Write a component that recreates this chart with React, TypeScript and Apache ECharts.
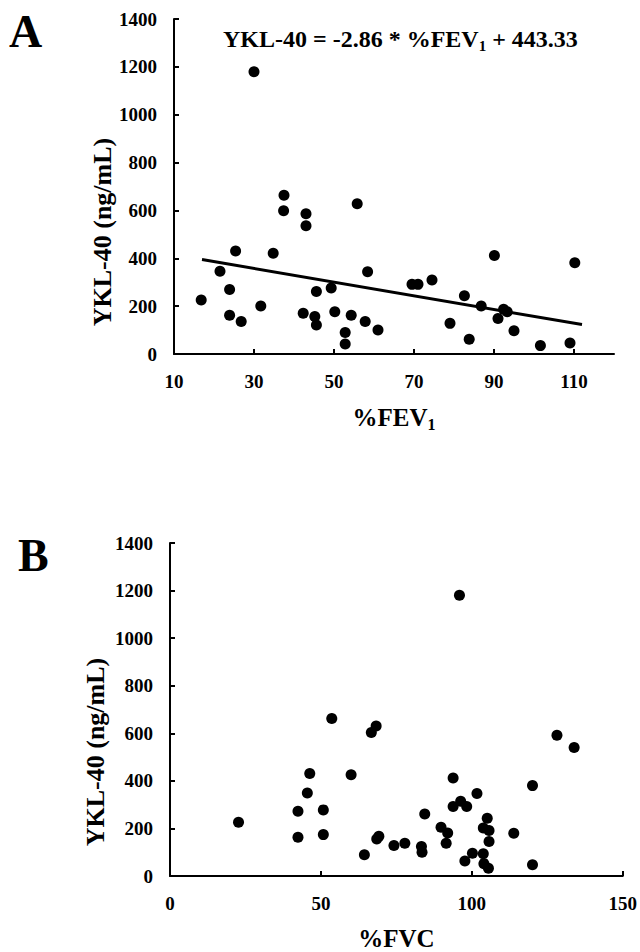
import React, { useEffect, useRef } from "react";
import * as echarts from "echarts";

// Panel A: %FEV1 vs YKL-40
const fevA = [16.8, 21.5, 23.9, 23.9, 25.4, 26.8, 30, 31.7, 34.8, 37.4, 37.5, 42.3, 43, 43, 45.2, 45.6, 45.6, 49.3, 50.2, 52.8, 52.8, 54.3, 55.8, 58.4, 57.8, 61, 69.5, 71, 74.5, 79, 82.6, 83.8, 86.8, 90.1, 91, 92.4, 93.3, 95, 101.6, 109, 110.2];
const yklA = [226, 346, 270, 162, 430, 136, 1180, 201, 421, 599, 663, 170, 586, 536, 157, 261, 121, 276, 177, 90, 42, 162, 628, 344, 136, 100, 291, 291, 309, 128, 243, 62, 201, 412, 148, 187, 177, 97, 35, 46, 381];

// Regression: YKL-40 = -2.86 * %FEV1 + 443.33
const slope = -2.86;
const intercept = 443.33;
const fitRange = [17, 112];

// Panel B: %FVC vs YKL-40
const fvcB = [22.7, 42.4, 42.4, 45.5, 46.3, 50.8, 50.8, 53.6, 60, 64.4, 66.7, 68.3, 68.5, 69.2, 74.2, 77.8, 83.3, 83.5, 84.4, 89.8, 92, 91.5, 93.8, 93.8, 96.3, 98.3, 97.7, 100.2, 101.7, 103.8, 103.8, 104, 105.1, 105.7, 105.7, 105.5, 113.9, 120.1, 120.1, 128.2, 133.9, 95.9];
const yklB = [226, 272, 163, 349, 431, 278, 174, 662, 426, 89, 603, 631, 156, 167, 128, 138, 124, 100, 261, 205, 181, 138, 412, 292, 314, 292, 63, 96, 347, 94, 202, 52, 243, 191, 145, 33, 180, 380, 47, 592, 540, 1180];

const xTicksA = [10, 30, 50, 70, 90, 110];

const FONT = "'Liberation Serif', 'Times New Roman', serif";

export default function App() {
  const ref = useRef<HTMLDivElement>(null);
  useEffect(() => {
    if (!ref.current) return;
    const chart = echarts.init(ref.current, null, { renderer: "svg" });
    const axisLine = { show: true, lineStyle: { color: "#000", width: 2 } };
    const axisTick = { show: true, inside: true, length: 5, lineStyle: { color: "#000", width: 2 } };
    const label = { color: "#000", fontFamily: FONT, fontWeight: "bold" as const, fontSize: 19 };
    const nameStyle = {
      color: "#000", fontFamily: FONT, fontWeight: "bold" as const, fontSize: 25,
      rich: {
        sub: { color: "#000", fontFamily: FONT, fontWeight: "bold", fontSize: 16, padding: [14, 0, 0, 0] },
      },
    };
    const yAxisCommon = {
      type: "value",
      min: 0, max: 1400, interval: 200,
      axisLine, axisTick,
      axisLabel: { ...label, margin: 17, formatter: (v: number) => String(v) },
      splitLine: { show: false },
    };
    const yName = (x: number, y: number) => ({
      type: "text", x, y, rotation: Math.PI / 2,
      style: {
        text: "YKL-40 (ng/mL)", fill: "#000", font: `bold 26px ${FONT}`,
        align: "center", verticalAlign: "middle",
      },
    });
    chart.setOption({
      animation: false,
      grid: [
        { left: 174, top: 19, width: 440, height: 335 },
        { left: 170, top: 543, width: 454, height: 336 },
      ],
      xAxis: [
        {
          type: "value", gridIndex: 0, min: 10, max: 120, interval: 20,
          axisLine,
          axisTick: { ...axisTick, customValues: xTicksA },
          axisLabel: { ...label, margin: 18, customValues: xTicksA, formatter: (v: number) => (v > 110 ? "" : String(v)) },
          splitLine: { show: false },
          name: "%FEV{sub|1}",
          nameLocation: "middle",
          nameGap: 48,
          nameTextStyle: nameStyle,
        },
        {
          type: "value", gridIndex: 1, min: 0, max: 150, interval: 50,
          axisLine, axisTick,
          axisLabel: { ...label, margin: 18 },
          splitLine: { show: false },
          name: "%FVC",
          nameLocation: "middle",
          nameGap: 50,
          nameTextStyle: nameStyle,
        },
      ],
      yAxis: [
        { ...yAxisCommon, gridIndex: 0 },
        { ...yAxisCommon, gridIndex: 1 },
      ],
      series: [
        {
          type: "scatter", xAxisIndex: 0, yAxisIndex: 0,
          data: fevA.map((x, i) => [x, yklA[i]]),
          symbol: "circle", symbolSize: 11,
          itemStyle: { color: "#000", opacity: 1 },
        },
        {
          type: "line", xAxisIndex: 0, yAxisIndex: 0,
          data: fitRange.map((x) => [x, slope * x + intercept]),
          symbol: "none",
          lineStyle: { color: "#000", width: 3 },
        },
        {
          type: "scatter", xAxisIndex: 1, yAxisIndex: 1,
          data: fvcB.map((x, i) => [x, yklB[i]]),
          symbol: "circle", symbolSize: 11,
          itemStyle: { color: "#000", opacity: 1 },
        },
      ],
      graphic: [
        {
          type: "text", left: 9, top: 8,
          style: { text: "A", fill: "#000", font: `bold 46px ${FONT}` },
        },
        {
          type: "text", left: 18, top: 532,
          style: { text: "B", fill: "#000", font: `bold 46px ${FONT}` },
        },
        {
          type: "text", left: 223, top: 27,
          style: {
            text: "YKL-40 = -2.86 * %FEV{sub|1} + 443.33",
            fill: "#000",
            font: `bold 24px ${FONT}`,
            rich: {
              sub: { fill: "#000", font: `bold 15px ${FONT}`, padding: [13, 0, 0, 0] },
            },
          },
        },
        yName(102, 232),
        yName(95, 752),
      ],
    });
    return () => chart.dispose();
  }, []);
  return <div ref={ref} style={{ position: "absolute", left: 0, top: 0, width: 640, height: 952 }} />;
}
